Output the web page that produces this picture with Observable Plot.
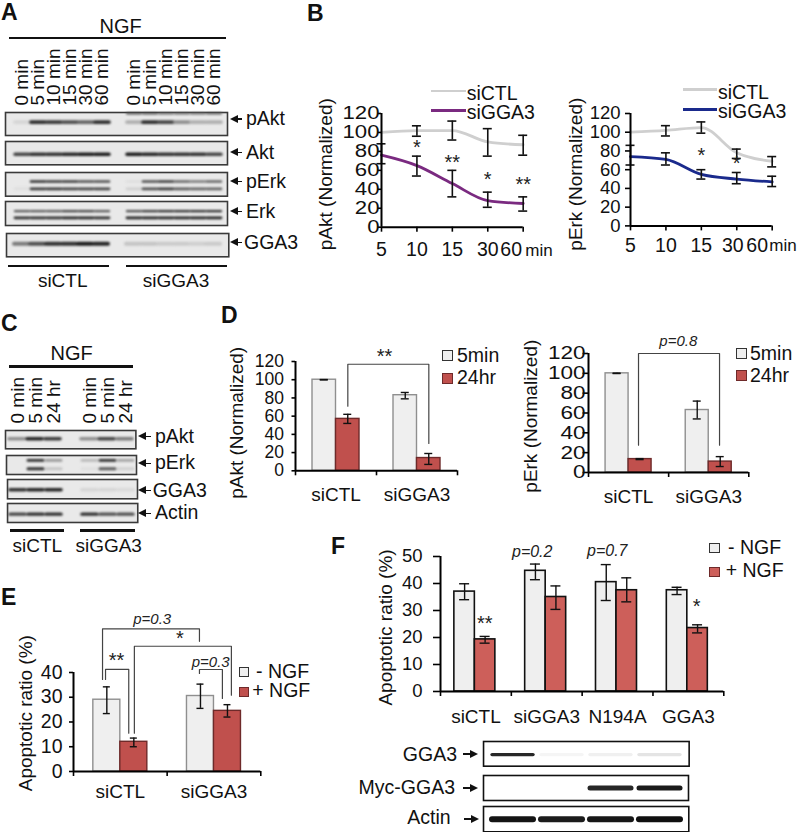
<!DOCTYPE html>
<html><head><meta charset="utf-8">
<style>
html,body{margin:0;padding:0;background:#fff}
#page{position:relative;width:800px;height:832px;overflow:hidden;font-family:"Liberation Sans",Arial,sans-serif;color:#111}
#page svg{position:absolute;background:transparent;max-width:none;overflow:visible}
.t{position:absolute;white-space:nowrap;line-height:1}
.r{position:absolute}
</style>
<script src="https://cdn.jsdelivr.net/npm/d3@7"></script>
<script src="https://cdn.jsdelivr.net/npm/@observablehq/plot@0.6"></script>
</head><body><div id="page"></div>
<script>
// ---------- data ----------
const timeCats = ["5","10","15","30","60"];
const akt_ctl = [100,102,102,90,87];
const akt_ctl_lo = [100,96,92,75,76];
const akt_ctl_hi = [100,107,112,104,97];
const akt_kd = [76,65,46,28,25];
const akt_kd_lo = [67,54,32,21,17];
const akt_kd_hi = [88,75,60,37,32];
const akt_stars = [["*",1,84],["**",2,68],["*",3,50],["**",4,45]];
const erk_ctl = [100,102,105,78,69];
const erk_ctl_lo = [100,96,99,72,63];
const erk_ctl_hi = [100,107,111,82,74];
const erk_kd = [74,71,55,50,47];
const erk_kd_lo = [65,65,50,45,42];
const erk_kd_hi = [86,78,60,57,53];
const erk_stars = [["*",2,75],["*",3,66]];

const siCats = ["siCTL","siGGA3"];
const dAkt_a=[100,83], dAkt_aLo=[99.8,79], dAkt_aHi=[100.2,86];
const dAkt_b=[57,14], dAkt_bLo=[52,7], dAkt_bHi=[62,19];
const dErk_a=[100,63], dErk_aLo=[99.8,54], dErk_aHi=[100.2,72];
const dErk_b=[13.5,11], dErk_bLo=[13,6], dErk_bHi=[14,16];
const e_a=[29,30.5], e_aLo=[23.4,25.5], e_aHi=[34.2,35.3];
const e_b=[12,24.5], e_bLo=[10,22], e_bHi=[13.5,27];
const fCats=["siCTL","siGGA3","N194A","GGA3"];
const f_a=[37,44.7,40.5,37.5], f_aLo=[34,41.4,33.7,35.9], f_aHi=[39.9,47.2,47,38.6];
const f_b=[19.3,35,37.5,23.5], f_bLo=[17.9,30.4,33.2,21.7], f_bHi=[20.4,39.1,42.1,24.7];

const dAktBrackets=[{id:"a",x:[0.646,0.646,1.646,1.646],y:[71,117,117,30]}];
const dErkBrackets=[{id:"a",x:[0.624,0.624,1.635,1.635],y:[27.5,120,120,27.5]}];
const eBrackets=[
 {id:"p1",x:[0.31,0.31,1.345,1.345],y:[37.2,57.6,57.6,52.6]},
 {id:"s",x:[0.65,0.65,1.686,1.686],y:[15.5,50.6,50.6,30.8]},
 {id:"ss",x:[0.342,0.342,0.59,0.59],y:[37.2,41.3,41.3,15.5]},
 {id:"p2",x:[1.345,1.345,1.59,1.59],y:[39.6,41.2,41.2,29.5]}];
const dAktNotes=[["**",1.1,125,false]];
const dErkNotes=[["p=0.8",1.12,132.6,true]];
const eNotes=[["p=0.3",0.84,61.4,true],["*",1.135,53.5,false],["**",0.46,44.8,false],["p=0.3",1.465,44,true]];
const fNotes=[["**",0.626,25,false],["*",3.616,31.5,false],["p=0.2",1.295,51.6,true],["p=0.7",2.355,52.2,true]];

// blot lane densities
const minLanes=["0 min","5 min","10 min","15 min","30 min","60 min"];
const hrLanes=["0 min","5 min","24 hr"];
const A_pAkt_top=[0,0,0,0,0,0,.7,.7,.6,.6,.6,.65];
const A_pAkt=[.07,.85,.8,.7,.6,.85,.25,.85,.75,.4,.25,.25];
const A_Akt=[.75,.85,.85,.9,.95,.95,.95,.9,.85,.85,.85,.75];
const A_pErk1=[0,.85,.8,.8,.7,.7,.03,.7,.8,.6,.5,.6];
const A_pErk2=[.03,.8,.8,.75,.75,.75,.1,.7,.8,.65,.6,.6];
const A_Erk1=[.65,.65,.65,.75,.75,.65,.7,.8,.85,.85,.85,.85];
const A_Erk2=[.85,.85,.85,.9,.9,.85,.9,.9,.9,.9,.9,.9];
const A_GGA3=[.5,.7,.85,.85,.95,.9,.15,.15,.12,.12,.1,.12];
const C_pAkt=[.4,.9,.8,.4,.75,.5];
const C_pErk1=[0,.85,.35,.2,.85,.3];
const C_pErk2=[0,.85,.15,.03,.65,.1];
const C_GGA3=[.85,.9,.9,.07,.07,.05];
const C_Actin=[.75,.85,.85,.85,.7,.7];
const F_GGA3=[.9,.03,.05,.1];
const F_Myc=[0,0,.9,.95];
const F_Actin=[.98,.95,.97,1];

// ---------- helpers ----------
const page=document.getElementById("page");
const FONT=19;
function label(text,x,y,o={}){
  const d=document.createElement("div");d.className="t";d.textContent=text;
  d.style.left=x+"px";d.style.top=y+"px";d.style.fontSize=(o.size||FONT)+"px";
  if(o.weight)d.style.fontWeight=o.weight;
  const tx=o.anchor==="middle"?"-50%":o.anchor==="end"?"-100%":"0";
  d.style.transform=`translate(${tx},-50%)`;
  page.appendChild(d);
}
function rule(x1,y1,x2,y2,c="#111",extra=""){
  const d=document.createElement("div");d.className="r";
  d.style.cssText=`left:${x1}px;top:${y1}px;width:${x2-x1}px;height:${y2-y1}px;background:${c};${extra}`;
  page.appendChild(d);
}
function swatch(x,y,s,fill,stroke){
  rule(x,y,x+s,y+s,fill,`box-sizing:border-box;border:1.5px solid ${stroke}`);
}
function arrow(tip,tail,y){
  const left=tip<tail;
  rule(Math.min(tip,tail)+(left?3:0),y-0.8,Math.max(tip,tail)-(left?0:3),y+0.8,"#111");
  const d=document.createElement("div");d.className="r";
  d.style.cssText=`left:${left?tip:tip-8}px;top:${y-4.5}px;width:0;height:0;border-top:4.5px solid transparent;border-bottom:4.5px solid transparent;`+
    (left?"border-right:8px solid #111":"border-left:8px solid #111");
  page.appendChild(d);
}
function mount(svg,left,top){svg.style.left=left+"px";svg.style.top=top+"px";page.appendChild(svg);return svg;}
function ink(v,base){const g=Math.round(base-v*(base-15));return `rgb(${g},${g},${g})`;}

function blot(box,slots,gapAt,range,bands,o={}){
  const m=2,w=box.x2-box.x1,h=box.y2-box.y1,base=o.base||228;
  const marks=[Plot.frame({fill:o.bg||"#e9e9e9",stroke:o.frame||"#3a3a3a",strokeWidth:1.6})];
  for(const b of bands){
    const rows=[];let k=0;
    for(let s=0;s<slots;s++){ if(s===gapAt) continue; const v=b.values[k++]; if(v>0) rows.push({s,v,p:b.pos}); }
    marks.push(Plot.tickY(rows,{x:"s",y:"p",stroke:d=>ink(d.v,base),strokeWidth:b.thick||3.5,strokeLinecap:"round"}));
  }
  const svg=Plot.plot({width:w+2*m,height:h+2*m,marginTop:m,marginBottom:m,marginLeft:m,marginRight:m,axis:null,
    x:{type:"band",domain:d3.range(slots),range:[range[0]-box.x1+m,range[1]-box.x1+m],padding:o.padding??.14},
    y:{domain:[0,1],range:[m,h+m]},marks});
  svg.querySelectorAll('[aria-label="tick"]').forEach(g=>g.style.filter=`blur(${o.blur??0.8}px)`);
  mount(svg,box.x1-m,box.y1-m);
}
function laneLabels(names,slots,gapAt,range,baseY,size){
  const H=80,rows=[];let k=0;
  for(let s=0;s<slots;s++){ if(s===gapAt) continue; rows.push({s,t:names[k++%names.length]}); }
  const svg=Plot.plot({width:range[1]+4,height:H,margin:0,axis:null,
    x:{type:"band",domain:d3.range(slots),range:range},y:{domain:[0,1],range:[H,0]},
    style:{fontFamily:"Liberation Sans",fontSize:size+"px",color:"#111"},
    marks:[Plot.text(rows,{x:"s",y:()=>0,text:"t",rotate:-90,textAnchor:"start",lineAnchor:"middle",fill:"#111"})]});
  mount(svg,0,baseY-H);
}

function textMarks(notes,o={}){
  return notes.map(n=>Plot.text([n],{x:d=>d[1],y:d=>d[2],text:d=>d[0],fill:"#222",
    fontSize:n[3]?(o.pSize||15):(o.starSize||20),fontStyle:n[3]?"italic":"normal",lineAnchor:"middle"}));
}
function bracketMarks(list,w=1.2){
  const pts=list.flatMap(b=>b.x.map((x,i)=>({id:b.id,x,y:b.y[i]})));
  return Plot.line(pts,{x:"x",y:"y",z:"id",stroke:"#444",strokeWidth:w});
}
function frameChart(c,marks){
  const mL=70,mR=40,mT=c.mT||40,mB=40;
  const svg=Plot.plot({width:c.right-c.axisX+mL+mR,height:c.y0-c.yTop+mT+mB,
    marginLeft:mL,marginRight:mR,marginTop:mT,marginBottom:mB,axis:null,
    x:{domain:c.xDomain},y:{domain:[0,c.yMax]},
    style:{fontFamily:"Liberation Sans",fontSize:"19px",color:"#111"},
    marks:[
      ...marks,
      Plot.ruleY([0],{stroke:"#000",strokeWidth:2}),
      Plot.ruleX([c.xDomain[0]],{stroke:"#000",strokeWidth:2}),
      Plot.axisY({ticks:c.yTicks,tickSize:c.tickSize,tickPadding:c.tickPad,stroke:"#000",strokeWidth:1.6,fill:"#111",label:null,fontSize:c.fontSize||19}),
      Plot.axisX({ticks:c.xTicks,tickSize:c.xTick||5,tickFormat:()=>"",stroke:"#000",strokeWidth:1.6,label:null}),
      Plot.text([c.yLabel],{frameAnchor:"left",textAnchor:"middle",dx:c.labelX-c.axisX,dy:c.labelY-(c.y0+c.yTop)/2,rotate:-90,fill:"#111",fontSize:c.labelSize||19})
    ]});
  mount(svg,c.axisX-mL,c.yTop-mT);
  if(c.stretch){
    svg.querySelectorAll('[aria-label="y-axis tick label"] text').forEach(t=>{
      t.setAttribute("textLength",t.getComputedTextLength()*c.stretch);
      t.setAttribute("lengthAdjust","spacingAndGlyphs");
    });
  }
}
function lineChart(c,ctl,ctlLo,ctlHi,kd,kdLo,kdHi,color,stars,shifts){
  const row=(v,lo,hi)=>v.map((_,i)=>({i,v:v[i],lo:lo[i],hi:hi[i]}));
  const A=row(ctl,ctlLo,ctlHi),B=row(kd,kdLo,kdHi);
  const cap=4.5/((c.right-c.axisX)/4);
  const errs=r=>[
    Plot.ruleX(r.filter(d=>d.hi-d.lo>0),{x:"i",y1:"lo",y2:"hi",stroke:"#111",strokeWidth:1.6}),
    Plot.ruleY(r.filter(d=>d.hi-d.lo>0),{y:"lo",x1:d=>d.i-cap,x2:d=>d.i+cap,stroke:"#111",strokeWidth:1.6}),
    Plot.ruleY(r.filter(d=>d.hi-d.lo>0),{y:"hi",x1:d=>d.i-cap,x2:d=>d.i+cap,stroke:"#111",strokeWidth:1.6})];
  frameChart({...c,xDomain:[0,4],xTicks:[0,1,2,3,4]},[
    Plot.line(A,{x:"i",y:"v",stroke:"#cfcfcf",strokeWidth:2.8,curve:"monotone-x"}),
    Plot.line(B,{x:"i",y:"v",stroke:color,strokeWidth:2.8,curve:"monotone-x"}),
    ...errs(A),...errs(B),
    ...textMarks(stars.map(s=>[s[0],s[1],s[2],false])),
    ...timeCats.map((t,i)=>Plot.text([t],{x:()=>i,y:()=>0,dy:c.xLabelDy,dx:shifts[i],fill:"#111",text:d=>d,fontSize:19.5}))
  ]);
}
function barChart(c,cats,a,aLo,aHi,b,bLo,bHi,notes,brackets){
  const bw=c.barPx/((c.right-c.axisX)/cats.length),cap=c.capPx/((c.right-c.axisX)/cats.length),shift=c.shift||0;
  const A=cats.map((_,i)=>({x1:i+.5-bw+shift,x2:i+.5+shift,v:a[i],lo:aLo[i],hi:aHi[i]}));
  const B=cats.map((_,i)=>({x1:i+.5+shift,x2:i+.5+bw+shift,v:b[i],lo:bLo[i],hi:bHi[i]}));
  const all=[...A,...B],mid=d=>(d.x1+d.x2)/2;
  frameChart({...c,xDomain:[0,cats.length],xTicks:d3.range(cats.length+1)},[
    Plot.rect(A,{x1:"x1",x2:"x2",y1:()=>0,y2:"v",fill:c.fillA,stroke:c.strokeA,strokeWidth:c.barStroke||1.4}),
    Plot.rect(B,{x1:"x1",x2:"x2",y1:()=>0,y2:"v",fill:c.fillB,stroke:c.strokeB,strokeWidth:c.barStroke||1.4}),
    Plot.ruleX(all,{x:mid,y1:"lo",y2:"hi",stroke:"#111",strokeWidth:1.4}),
    Plot.ruleY(all,{y:"lo",x1:d=>mid(d)-cap,x2:d=>mid(d)+cap,stroke:"#111",strokeWidth:1.4}),
    Plot.ruleY(all,{y:"hi",x1:d=>mid(d)-cap,x2:d=>mid(d)+cap,stroke:"#111",strokeWidth:1.4}),
    ...(brackets?[bracketMarks(brackets)]:[]),
    ...textMarks(notes,c),
    ...cats.map((t,i)=>Plot.text([t],{x:()=>i+.5,y:()=>0,dy:c.xLabelDy,fill:"#111",text:d=>d,fontSize:19}))
  ]);
}
const bold={size:23,weight:"bold"};

// ---------- panel A ----------
label("A",1,12,bold);
label("NGF",120.7,26,{anchor:"middle",size:20});
rule(9,36.5,226,39);
const aR=[8.5,226], aS=13, aG=6;
laneLabels(minLanes,aS,aG,aR,105,19);
blot({x1:4.7,x2:226.7,y1:112,y2:135},aS,aG,aR,[{pos:.04,thick:2,values:A_pAkt_top},{pos:.42,thick:3.6,values:A_pAkt}]);
blot({x1:4.7,x2:226.7,y1:141,y2:164.3},aS,aG,aR,[{pos:.55,thick:3.4,values:A_Akt}]);
blot({x1:4.7,x2:226.7,y1:172,y2:195.7},aS,aG,aR,[{pos:.38,thick:2.6,values:A_pErk1},{pos:.69,thick:2.8,values:A_pErk2}]);
blot({x1:4.7,x2:226.7,y1:201,y2:225},aS,aG,aR,[{pos:.4,thick:2.4,values:A_Erk1},{pos:.68,thick:2.8,values:A_Erk2}]);
blot({x1:6,x2:228.3,y1:232.7,y2:256},aS,aG,aR,[{pos:.44,thick:4,values:A_GGA3}]);
[["pAkt",119],["Akt",152.7],["pErk",181.7],["Erk",211.7],["GGA3",242.7]].forEach(([t,y],i)=>{
  arrow(230,241.7,y); label(t,i===4?244:246,y,{size:19.5});
});
rule(8,264.5,109,267);rule(126,264.5,227,267);
label("siCTL",62.7,280,{anchor:"middle"});label("siGGA3",176,280,{anchor:"middle"});

// ---------- panel B ----------
label("B",307,13,bold);
lineChart({axisX:381,right:522.7,yTop:113.3,y0:227,yMax:120,yTicks:[0,20,40,60,80,100,120],tickSize:3.5,tickPad:-1.5,
  labelX:325,labelY:174,yLabel:"pAkt (Normalized)",xLabelDy:23,fontSize:18.5,stretch:1.2},
  akt_ctl,akt_ctl_lo,akt_ctl_hi,akt_kd,akt_kd_lo,akt_kd_hi,"#7a2a80",akt_stars,[0,0,0,0,-12]);
lineChart({axisX:630,right:771.7,yTop:113.3,y0:225.7,yMax:120,yTicks:[0,20,40,60,80,100,120],tickSize:5,tickPad:5,
  labelX:575,labelY:174,yLabel:"pErk (Normalized)",xLabelDy:20,fontSize:18.5},
  erk_ctl,erk_ctl_lo,erk_ctl_hi,erk_kd,erk_kd_lo,erk_kd_hi,"#1a2a8c",erk_stars,[0,0,0,-4,-15]);
label("min",539,250,{anchor:"middle",size:17});
label("min",783,245,{anchor:"middle",size:17});
rule(431,89.5,465.7,92,"#cfcfcf");label("siCTL",466.7,94,{size:19.5});
rule(431,109,465.7,111.5,"#7a2a80");label("siGGA3",466.7,113,{size:19.5});
rule(682.7,88,716.7,90.5,"#cfcfcf");label("siCTL",718,93,{size:19.5});
rule(682.7,108,716.7,110.5,"#1a2a8c");label("siGGA3",718,112,{size:19.5});

// ---------- panel C ----------
label("C",1,323,bold);
label("NGF",71.7,353,{anchor:"middle",size:20});
rule(9,365,133,367.5);
const cR=[7,136], cS=7, cG=3;
laneLabels(hrLanes,cS,cG,cR,423,19);
blot({x1:5.3,x2:135.7,y1:430,y2:448.3},cS,cG,cR,[{pos:.45,thick:3.6,values:C_pAkt}]);
blot({x1:6,x2:136,y1:455,y2:474},cS,cG,cR,[{pos:.26,thick:2.8,values:C_pErk1},{pos:.7,thick:3,values:C_pErk2}]);
blot({x1:6.7,x2:136.7,y1:479,y2:498.3},cS,cG,cR,[{pos:.53,thick:3.6,values:C_GGA3}]);
blot({x1:7,x2:137.3,y1:503.3,y2:522.3},cS,cG,cR,[{pos:.56,thick:3.4,values:C_Actin}]);
[["pAkt",436.7,155],["pErk",463.3,155],["GGA3",490.7,152.7],["Actin",513.3,155]].forEach(([t,y,x])=>{
  arrow(138,150.7,y);label(t,x,y,{size:19.5});
});
rule(10,529,64.3,531.5);rule(80,529,135,531.5);
label("siCTL",37.3,545,{anchor:"middle"});label("siGGA3",108.7,545,{anchor:"middle"});

// ---------- panel D ----------
label("D",221,315,bold);
const lightD={fillA:"#efefef",strokeA:"#8f8f8f",fillB:"#c0504d",strokeB:"#6e2a2a"};
barChart({...lightD,axisX:295,right:457,yTop:360.7,y0:470,yMax:120,yTicks:[0,20,40,60,80,100,120],tickSize:3.5,tickPad:8,
  labelX:236.7,labelY:422,yLabel:"pAkt (Normalized)",xLabelDy:24,barPx:23.5,capPx:4,fontSize:17.5},
  siCats,dAkt_a,dAkt_aLo,dAkt_aHi,dAkt_b,dAkt_bLo,dAkt_bHi,dAktNotes,dAktBrackets);
barChart({...lightD,axisX:588,right:748.3,yTop:353.3,y0:472.3,yMax:120,yTicks:[0,20,40,60,80,100,120],tickSize:5.5,tickPad:-2.5,
  labelX:530,labelY:416,yLabel:"pErk (Normalized)",xLabelDy:24,barPx:23,capPx:4,fontSize:18.5,stretch:1.22},
  siCats,dErk_a,dErk_aLo,dErk_aHi,dErk_b,dErk_bLo,dErk_bHi,dErkNotes,dErkBrackets);
swatch(442,350,10.5,"#efefef","#333");swatch(442,373,10.5,"#c0504d","#6e2a2a");
label("5min",457,356,{size:19.5});label("24hr",457,378,{size:19.5});
swatch(736,348,10.5,"#efefef","#333");swatch(736,370,10.5,"#c0504d","#6e2a2a");
label("5min",750,354,{size:19.5});label("24hr",750,376,{size:19.5});

// ---------- panel E ----------
label("E",1,597,bold);
barChart({...lightD,axisX:72.7,right:260,yTop:672.3,y0:771.3,yMax:40,yTicks:[0,10,20,30,40],tickSize:4,tickPad:7,mT:70,
  labelX:25,labelY:713,yLabel:"Apoptotic ratio (%)",xLabelDy:20,barPx:27,capPx:3.5,fontSize:19.5,labelSize:19},
  siCats,e_a,e_aLo,e_aHi,e_b,e_bLo,e_bHi,eNotes,eBrackets);
swatch(239,667.3,9.5,"#efefef","#333");swatch(239,687.3,9.5,"#c0504d","#6e2a2a");
label("- NGF",256,672.3,{size:19.5});label("+ NGF",252.3,691,{size:19.5});

// ---------- panel F ----------
label("F",331,546,bold);
barChart({fillA:"#efefef",strokeA:"#111",fillB:"#cd5f5a",strokeB:"#111",barStroke:1.6,axisX:440,right:723.3,yTop:556,y0:691,yMax:50,yTicks:[0,10,20,30,40,50],tickSize:7,tickPad:11,
  labelX:385,labelY:627,yLabel:"Apoptotic ratio (%)",xLabelDy:25,barPx:20.5,capPx:5,shift:-0.015,fontSize:18.5,labelSize:19,pSize:16},
  fCats,f_a,f_aLo,f_aHi,f_b,f_bLo,f_bHi,fNotes);
swatch(709.3,542.7,10.5,"#efefef","#333");swatch(709.3,566.7,10.5,"#cd5f5a","#6e2a2a");
label("- NGF",728,548,{size:19.5});label("+ NGF",725.7,571,{size:19.5});
const fW={bg:"#fff",base:252,frame:"#111",padding:.16,blur:.7};
const fR=[483.3,689];
blot({x1:483.3,x2:689,y1:741,y2:765.7},4,-1,fR,[{pos:.53,thick:3.4,values:F_GGA3}],fW);
blot({x1:483.3,x2:688.3,y1:775,y2:800},4,-1,fR,[{pos:.5,thick:5,values:F_Myc}],fW);
blot({x1:482.7,x2:688,y1:805.7,y2:831},4,-1,fR,[{pos:.5,thick:6,values:F_Actin}],fW);
arrow(478.3,463.3,754);label("GGA3",457,755,{anchor:"end",size:19.5});
arrow(478.3,463.3,788);label("Myc-GGA3",455,788,{anchor:"end",size:19.5});
arrow(479,464,819);label("Actin",450.7,818,{anchor:"end",size:19.5});
</script></body></html>
